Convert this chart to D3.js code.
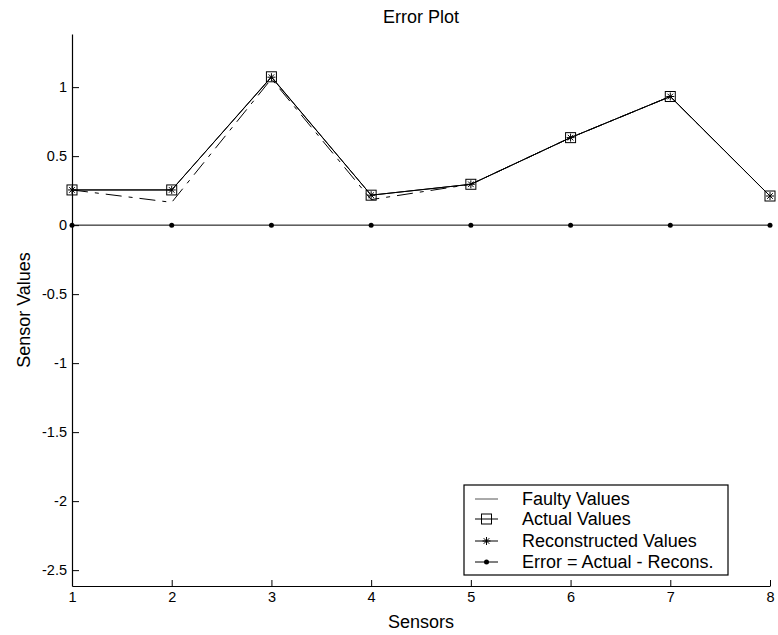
<!DOCTYPE html>
<html><head><meta charset="utf-8">
<script src="https://cdn.jsdelivr.net/npm/d3@7"></script>
<style>body{margin:0;background:#fff}svg{display:block}text{font-family:Arial,"Liberation Sans",sans-serif;fill:#000}</style>
</head><body><svg id="c" width="778" height="635"></svg>
<script>
const sensors = [1,2,3,4,5,6,7,8];
const faulty = [0.255,0.165,1.06,0.185,0.296,0.634,0.932,0.211];
const actual = [0.255,0.255,1.075,0.217,0.296,0.634,0.932,0.211];
const reconstructed = [0.255,0.255,1.072,0.217,0.296,0.634,0.932,0.211];
const errorVals = [0,0,0,0,0,0,0,0];
const yTicks = [-2.5,-2,-1.5,-1,-0.5,0,0.5,1];
const legendLabels = ["Faulty Values","Actual Values","Reconstructed Values","Error = Actual - Recons."];

const svg = d3.select("#c");
const L=72,R=770,T=34,B=586;
const x = d3.scaleLinear().domain([1,8]).range([L,R]);
const y = d3.scaleLinear().domain([-2.615,1.385]).range([B,T]);

// axes
const xa = svg.append("g").attr("transform",`translate(0,${B})`)
  .call(d3.axisBottom(x).tickValues(sensors).tickFormat(d3.format("d")).tickSizeInner(-6).tickSizeOuter(0).tickPadding(12));
const ya = svg.append("g").attr("transform",`translate(${L},0)`)
  .call(d3.axisLeft(y).tickValues(yTicks).tickFormat(d=>String(d)).tickSizeInner(-7).tickSizeOuter(0).tickPadding(12));
[xa,ya].forEach(a=>{a.select(".domain").attr("stroke","#000").attr("stroke-width",1.2);
  a.selectAll(".tick line").attr("stroke","#000");
  a.selectAll("text").attr("font-size",14.5).attr("font-family","Arial, 'Liberation Sans', sans-serif").attr("fill","#000");});
xa.selectAll("text").attr("dy","0.71em").attr("y",6);
ya.selectAll("text").attr("x",-5);

// labels
svg.append("text").attr("x",421).attr("y",17).attr("dy","0.35em").attr("text-anchor","middle").attr("font-size",18).text("Error Plot");
svg.append("text").attr("x",421).attr("y",622).attr("dy","0.35em").attr("text-anchor","middle").attr("font-size",18).text("Sensors");
svg.append("text").attr("transform","translate(24,310) rotate(-90)").attr("dy","0.35em").attr("text-anchor","middle").attr("font-size",18).text("Sensor Values");

const line = d3.line().x((d,i)=>x(sensors[i])).y(d=>y(d));
const dash = "16,7,4,7";

svg.append("path").datum(faulty).attr("d",line).attr("fill","none").attr("stroke","#000").attr("stroke-width",1).attr("stroke-dasharray",dash);
svg.append("path").datum(actual).attr("d",line).attr("fill","none").attr("stroke","#000").attr("stroke-width",1);
svg.append("path").datum(reconstructed).attr("d",line).attr("fill","none").attr("stroke","#000").attr("stroke-width",1);
svg.append("path").datum(errorVals).attr("d",line).attr("fill","none").attr("stroke","#000").attr("stroke-width",1);

function square(g,cx,cy){g.append("rect").attr("x",cx-5).attr("y",cy-5).attr("width",10).attr("height",10).attr("fill","none").attr("stroke","#000").attr("stroke-width",1);}
function star(g,cx,cy){const r=4;
  g.append("path").attr("d",`M${cx-r},${cy}H${cx+r}M${cx},${cy-r}V${cy+r}M${cx-r*0.7},${cy-r*0.7}L${cx+r*0.7},${cy+r*0.7}M${cx-r*0.7},${cy+r*0.7}L${cx+r*0.7},${cy-r*0.7}`).attr("stroke","#000").attr("stroke-width",1).attr("fill","none");}
function dot(g,cx,cy){g.append("circle").attr("cx",cx).attr("cy",cy).attr("r",2.5).attr("fill","#000");}

const m = svg.append("g");
actual.forEach((v,i)=>square(m,x(sensors[i]),y(v)));
reconstructed.forEach((v,i)=>star(m,x(sensors[i]),y(v)));
errorVals.forEach((v,i)=>dot(m,x(sensors[i]),y(v)));

// legend
const lg = svg.append("g");
lg.append("rect").attr("x",464).attr("y",485).attr("width",264).attr("height",90).attr("fill","#fff").attr("stroke","#000").attr("stroke-width",1.2);
const rowY = [499,519,541,562];
legendLabels.forEach((t,i)=>{
  const yy=rowY[i];
  lg.append("line").attr("x1",475).attr("x2",498).attr("y1",yy).attr("y2",yy).attr("stroke",i===0?"#555":"#000").attr("stroke-width",1);
  if(i===1) square(lg,486.5,yy);
  if(i===2) star(lg,486.5,yy);
  if(i===3) dot(lg,486.5,yy);
  lg.append("text").attr("x",522).attr("y",yy).attr("dy","0.35em").attr("font-size",18).text(t);
});
</script></body></html>
